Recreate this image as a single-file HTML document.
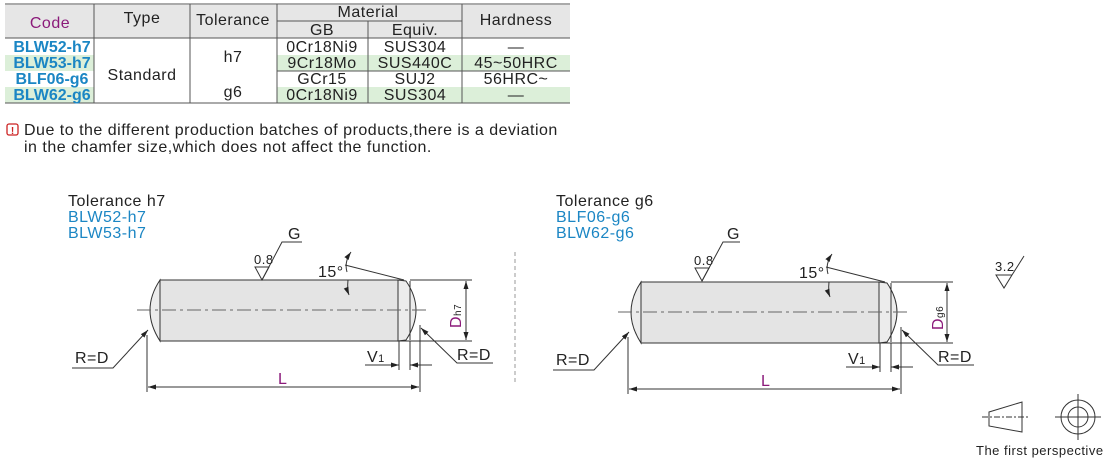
<!DOCTYPE html>
<html><head><meta charset="utf-8"><style>
body{margin:0;background:#fff;width:1110px;height:462px;overflow:hidden;font-family:"Liberation Sans",sans-serif;}
svg{position:absolute;left:0;top:0}
text{letter-spacing:0.5px}
text.b{letter-spacing:0}
</style></head><body>
<svg width="1110" height="462" viewBox="0 0 1110 462" font-family="Liberation Sans, sans-serif">
<defs>
<marker id="a" markerWidth="8" markerHeight="6" refX="8" refY="3" orient="auto-start-reverse" markerUnits="userSpaceOnUse"><path d="M0,0.5 L8,3 L0,5.5z" fill="#222"/></marker>
<g id="pin">
 <path d="M160,280 Q140,310 160,341 Z" fill="#ececec" stroke="#333" stroke-width="1"/>
 <rect x="160" y="280" width="240" height="61" fill="#e4e4e4" stroke="#333" stroke-width="1"/>
 <path d="M398,280 L406,281 Q426,310 406,340 L398,341 Z" fill="#ececec" stroke="#333" stroke-width="1"/>
 <line x1="410" y1="281" x2="410" y2="340" stroke="#333"/>
 <line x1="137" y1="310" x2="428" y2="310" stroke="#666" stroke-width="1" stroke-dasharray="14,4,3,4"/>
 <path d="M345,265 L404,280" stroke="#333"/>
 <path d="M351,252 Q344,262 347,272" fill="none" stroke="#333" marker-start="url(#a)"/>
 <path d="M348,280 Q347,290 349,295" fill="none" stroke="#333" marker-end="url(#a)"/>
 <line x1="410" y1="280" x2="472" y2="280" stroke="#333"/>
 <line x1="392" y1="341" x2="472" y2="341" stroke="#333"/>
 <line x1="466" y1="281" x2="466" y2="340" stroke="#333" marker-start="url(#a)" marker-end="url(#a)"/>
 <line x1="399" y1="341" x2="399" y2="370" stroke="#333"/>
 <line x1="410" y1="341" x2="410" y2="370" stroke="#333"/>
 <line x1="365" y1="365" x2="399" y2="365" stroke="#333" marker-end="url(#a)"/>
 <line x1="432" y1="365" x2="410" y2="365" stroke="#333" marker-end="url(#a)"/>
 <path d="M421,328 L457,363 L493,363" fill="none" stroke="#333" marker-start="url(#a)"/>
 <path d="M148,330 L113,368 L72,368" fill="none" stroke="#333" marker-start="url(#a)"/>
 <line x1="147" y1="335" x2="147" y2="392" stroke="#333"/>
 <line x1="420" y1="325" x2="420" y2="392" stroke="#333"/>
 <line x1="148" y1="387" x2="419" y2="387" stroke="#333" marker-start="url(#a)" marker-end="url(#a)"/>
</g>
</defs>

<!-- table -->
<rect x="5" y="5" width="565" height="33" fill="#e6e6e6"/>
<rect x="5" y="55" width="565" height="16" fill="#dcefd9"/>
<rect x="5" y="87" width="565" height="16" fill="#dcefd9"/>
<rect x="94" y="38" width="183" height="65" fill="#fff"/>
<g stroke="#555" stroke-width="1" fill="none">
<line x1="5" y1="4" x2="570" y2="4"/>
<line x1="5" y1="38" x2="570" y2="38"/>
<line x1="277" y1="21" x2="462" y2="21"/>
<line x1="5" y1="103" x2="570" y2="103"/>
<line x1="94" y1="4" x2="94" y2="103"/>
<line x1="190" y1="4" x2="190" y2="103"/>
<line x1="277" y1="4" x2="277" y2="103"/>
<line x1="368" y1="21" x2="368" y2="103"/>
<line x1="462" y1="4" x2="462" y2="103"/>
<line x1="277" y1="71" x2="570" y2="71"/>
</g>
<g font-size="16" fill="#222" text-anchor="middle">
<text x="50" y="28" fill="#8b1a7a">Code</text>
<text x="142" y="23">Type</text>
<text x="233" y="25">Tolerance</text>
<text x="368" y="17">Material</text>
<text x="322" y="35">GB</text>
<text x="415" y="35">Equiv.</text>
<text x="516" y="25">Hardness</text>
<text x="233" y="62">h7</text>
<text x="142" y="80">Standard</text>
<text x="233" y="97">g6</text>
<text x="322" y="52">0Cr18Ni9</text><text x="415" y="52">SUS304</text><text x="516" y="52">—</text>
<text x="322" y="68">9Cr18Mo</text><text x="415" y="68">SUS440C</text><text x="516" y="68">45~50HRC</text>
<text x="322" y="84">GCr15</text><text x="415" y="84">SUJ2</text><text x="516" y="84">56HRC~</text>
<text x="322" y="100">0Cr18Ni9</text><text x="415" y="100">SUS304</text><text x="516" y="100">—</text>
</g>
<g font-size="16" font-weight="bold" fill="#1b86c4" text-anchor="middle">
<text class="b" x="52" y="52">BLW52-h7</text><text class="b" x="52" y="68">BLW53-h7</text><text class="b" x="52" y="84">BLF06-g6</text><text class="b" x="52" y="100">BLW62-g6</text>
</g>
<rect x="7" y="124" width="11" height="11" rx="2" fill="none" stroke="#c22" stroke-width="1.3"/>
<text x="12.5" y="134" font-size="10" font-weight="bold" fill="#c22" text-anchor="middle" style="letter-spacing:0">!</text>
<text x="24" y="135" font-size="16" fill="#222">Due to the different production batches of products,there is a deviation</text>
<text x="24" y="152" font-size="16" fill="#222">in the chamfer size,which does not affect the function.</text>

<!-- drawings -->
<use href="#pin"/>
<use href="#pin" transform="translate(481,2)"/>
<g fill="none" stroke="#333">
<path d="M255,267 L269,267 L262,280 Z"/>
<path d="M262,280 L282,242 L302,242"/>
<path d="M695,268 L709,268 L702,281 Z"/>
<path d="M702,281 L723,242 L740,242"/>
</g>
<line x1="515" y1="252" x2="515" y2="382" stroke="#999" stroke-dasharray="4,3"/>
<g font-size="16" fill="#222">
<text x="68" y="206">Tolerance h7</text>
<text x="68" y="222" fill="#1b86c4">BLW52-h7</text>
<text x="68" y="238" fill="#1b86c4">BLW53-h7</text>
<text x="288" y="239">G</text>
<text x="318" y="277">15°</text>
<text x="457" y="360">R=D</text>
<text x="75" y="363">R=D</text>
<text x="367" y="362">V<tspan font-size="11">1</tspan></text>
<text x="278" y="384" fill="#8b1a7a">L</text>
<text x="556" y="206">Tolerance g6</text>
<text x="556" y="222" fill="#1b86c4">BLF06-g6</text>
<text x="556" y="238" fill="#1b86c4">BLW62-g6</text>
<text x="727" y="239">G</text>
<text x="799" y="278">15°</text>
<text x="938" y="362">R=D</text>
<text x="556" y="365">R=D</text>
<text x="848" y="364">V<tspan font-size="11">1</tspan></text>
<text x="761" y="386" fill="#8b1a7a">L</text>
</g>
<g font-size="13" fill="#222">
<text x="254" y="264">0.8</text>
<text x="694" y="265">0.8</text>
<text x="995" y="271">3.2</text>
</g>
<text transform="translate(461,328) rotate(-90)" font-size="16" fill="#8b1a7a">D<tspan font-size="10" fill="#222">h7</tspan></text>
<text transform="translate(943,330) rotate(-90)" font-size="16" fill="#8b1a7a">D<tspan font-size="10" fill="#222">g6</tspan></text>
<path d="M996,275 L1012,275 L1004,288 Z M1012,275 L1024,256" fill="none" stroke="#333"/>
<!-- projection -->
<g stroke="#333" fill="none">
<path d="M989,412 L1022,402 L1022,432 L989,426 Z"/>
<line x1="982" y1="417" x2="1028" y2="417" stroke-dasharray="6,2,2,2"/>
<circle cx="1078" cy="417" r="17"/><circle cx="1078" cy="417" r="10"/>
<line x1="1055" y1="417" x2="1101" y2="417"/><line x1="1078" y1="394" x2="1078" y2="440"/>
</g>
<text x="976" y="455" font-size="13" fill="#222">The first perspective</text>
</svg>
</body></html>
